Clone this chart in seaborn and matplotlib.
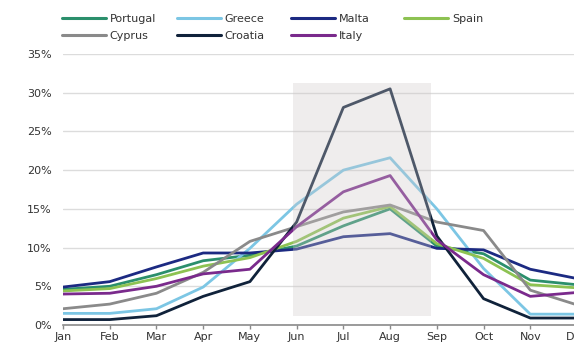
import matplotlib
matplotlib.use("Agg")
import matplotlib.pyplot as plt
import seaborn as sns
import pandas as pd
from matplotlib.ticker import PercentFormatter

months = ["Jan", "Feb", "Mar", "Apr", "May", "Jun",
          "Jul", "Aug", "Sep", "Oct", "Nov", "Dec"]

# Share of annual tourist nights by month (%)
portugal = [4.6, 5.0, 6.5, 8.3, 9.0, 10.2, 12.8, 15.0, 10.2, 9.2, 5.8, 5.2]
greece   = [1.5, 1.5, 2.1, 4.9, 9.9, 15.6, 20.0, 21.6, 15.0, 7.3, 1.4, 1.4]
malta    = [4.9, 5.6, 7.5, 9.3, 9.3, 9.8, 11.4, 11.8, 9.9, 9.7, 7.2, 6.0]
spain    = [4.4, 4.7, 6.0, 7.6, 8.7, 10.8, 13.8, 15.3, 10.5, 8.6, 5.2, 4.8]
cyprus   = [2.1, 2.7, 4.1, 6.8, 10.8, 12.7, 14.6, 15.5, 13.3, 12.2, 4.5, 2.6]
croatia  = [0.7, 0.7, 1.2, 3.7, 5.6, 13.3, 28.1, 30.5, 11.5, 3.4, 0.9, 0.9]
italy    = [4.0, 4.1, 5.0, 6.6, 7.2, 12.7, 17.2, 19.3, 11.0, 6.5, 3.7, 4.2]

countries = ["Portugal", "Greece", "Malta", "Spain", "Cyprus", "Croatia", "Italy"]
series = [portugal, greece, malta, spain, cyprus, croatia, italy]
colors = ["#2b8f6c", "#7cc6e4", "#1c2a82", "#8dc252", "#8a8a8a", "#10223a", "#7a2a8c"]

# Summer season band (in month-index units and percent)
season_start, season_end = 4.92, 7.88
season_low, season_high = 1.1, 31.2

rows = []
for name, vals in zip(countries, series):
    for i, v in enumerate(vals):
        rows.append({"country": name, "month": i, "share": v})
df = pd.DataFrame(rows)

sns.set_theme(style="white")
plt.rcParams["font.family"] = ["DejaVu Sans"]

fig = plt.figure(figsize=(5.74, 3.44), dpi=100)
ax = fig.add_axes([63 / 574, 1 - 325 / 344, 514 / 574, (325 - 54) / 344])

sns.lineplot(data=df, x="month", y="share", hue="country",
             hue_order=countries, palette=dict(zip(countries, colors)),
             linewidth=2.0, ax=ax, legend=False, zorder=3)

# translucent band laid over the summer months
ax.axvspan(season_start, season_end, ymin=season_low / 35, ymax=season_high / 35,
           color="#cfc9c9", alpha=0.33, lw=0, zorder=4)

ax.set_xlim(0, 11)
ax.set_ylim(0, 35)
ax.set_yticks(range(0, 36, 5))
ax.yaxis.set_major_formatter(PercentFormatter(decimals=0))
ax.set_xticks(range(12))
ax.set_xticklabels(months)
ax.set_xlabel("")
ax.set_ylabel("")
ax.grid(axis="y", color="#dcdcdc", linewidth=1.0, zorder=0)
ax.set_axisbelow(True)

for side in ["top", "right", "left"]:
    ax.spines[side].set_visible(False)
ax.spines["bottom"].set_color("#8a8a8a")
ax.spines["bottom"].set_linewidth(1.2)
ax.spines["bottom"].set_zorder(5)

ax.tick_params(axis="x", which="major", bottom=True, length=3, width=1,
               color="#8a8a8a", labelsize=8, labelcolor="#333333", pad=2)
ax.tick_params(axis="y", which="major", left=False, labelsize=8,
               labelcolor="#333333", pad=2)

# legend: four evenly spaced columns of two entries each
legend_columns = [["Portugal", "Cyprus"], ["Greece", "Croatia"],
                  ["Malta", "Italy"], ["Spain"]]
column_left = [62, 177, 291, 404]
for names, left in zip(legend_columns, column_left):
    handles = [plt.Line2D([], [], color=colors[countries.index(n)], linewidth=2.2)
               for n in names]
    fig.legend(handles, names, loc="upper left",
               bbox_to_anchor=(left / 574, 1 - 14 / 344), frameon=False,
               fontsize=8, labelcolor="#333333", handlelength=4.0,
               handletextpad=0.3, labelspacing=0.6,
               borderpad=0, borderaxespad=0)

fig.savefig("out.png", dpi=100)
